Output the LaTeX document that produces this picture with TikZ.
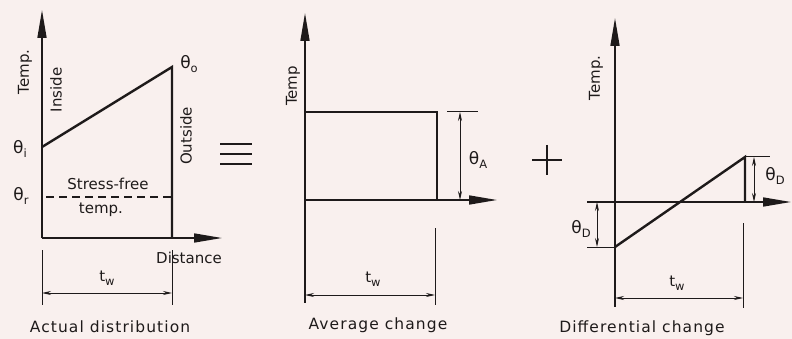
\documentclass[tikz,border=0pt]{standalone}
\usepackage{fontspec}
\setmainfont{DejaVu Sans}
\usetikzlibrary{arrows.meta}
\definecolor{bg}{RGB}{249,240,238}
\definecolor{ink}{RGB}{30,26,26}
\newcommand{\sbs}[1]{\raisebox{-0.5ex}{\fontsize{11.5}{11.5}\selectfont #1}}
\begin{document}
\begin{tikzpicture}[x=1pt,y=-1pt,
 ax/.style={line width=1.6pt, draw=ink, -{Triangle[length=28pt,width=9pt]}},
 gr/.style={line width=2.4pt, draw=ink},
 dimline/.style={line width=0.9pt, draw=ink, {Stealth[length=9pt,width=4pt]}-{Stealth[length=9pt,width=4pt]}},
 ext/.style={line width=1pt, draw=ink},
 lbl/.style={text=ink, font=\fontsize{15}{17}\selectfont, inner sep=0pt},
 thl/.style={text=ink, font=\fontsize{17}{19}\selectfont, inner sep=0pt},
 capt/.style={text=ink, font=\fontsize{15.5}{17}\selectfont\addfontfeature{LetterSpace=7}, inner sep=0pt},
 eqbar/.style={line width=2.8pt, draw=ink},
]
\useasboundingbox (0,0) rectangle (792,339);
\fill[bg] (0,0) rectangle (792,339);

% ---------- Panel 1: actual distribution ----------
\coordinate (o1) at (42,238);
\coordinate (y1) at (42,10);
\coordinate (x1) at (222,238);
\coordinate (i1) at (42,147);
\coordinate (w1) at (172,67);
\coordinate (b1) at (172,238);
\coordinate (r1a) at (46,197);
\coordinate (r1b) at (172,197);
\draw[ax] (o1) -- (y1);
\draw[ax] (o1) -- (x1);
\draw[gr] (i1) -- (w1) -- (b1);
\draw[ink, line width=1.8pt, dash pattern=on 8pt off 5pt] (r1a) -- (r1b);
\coordinate (e1a) at (42,250); \coordinate (e1b) at (42,305);
\coordinate (e1c) at (172,250); \coordinate (e1d) at (172,305);
\draw[ext] (e1a) -- (e1b);
\draw[ext] (e1c) -- (e1d);
\coordinate (d1a) at (42,293); \coordinate (d1b) at (172,293);
\draw[dimline] (d1a) -- (d1b);
\node[lbl, rotate=90] (temp1) at (25,72) {Temp.};
\node[lbl, rotate=90] (ins) at (56,90) {Inside};
\node[lbl, rotate=90] (outs) at (186,136) {Outside};
\node[thl] (thi) at (20,149) {θ\sbs{i}};
\node[thl] (thr) at (21,196) {θ\sbs{r}};
\node[thl] (tho) at (189,64) {θ\sbs{o}};
\node[lbl] (sf) at (108,184) {Stress-free};
\node[lbl] (tp) at (101,210) {temp.};
\node[lbl] (dist) at (189,258) {Distance};
\node[lbl] (tw1) at (107,278) {t\sbs{w}};
\node[capt] (c1) at (110,327) {Actual distribution};

% equivalence sign
\coordinate (q1) at (220,144); \coordinate (q2) at (252,144);
\coordinate (q3) at (220,154); \coordinate (q4) at (252,154);
\coordinate (q5) at (220,164); \coordinate (q6) at (252,164);
\draw[eqbar] (q1) -- (q2);
\draw[eqbar] (q3) -- (q4);
\draw[eqbar] (q5) -- (q6);

% ---------- Panel 2: average change ----------
\coordinate (o2) at (305,200);
\coordinate (y2) at (305,13);
\coordinate (bot2) at (305,303);
\coordinate (x2) at (497,200);
\coordinate (t2a) at (305,112);
\coordinate (t2b) at (437,112);
\coordinate (b2) at (437,200);
\draw[ext, line width=1.4pt] (o2) -- (bot2);
\draw[ax] (o2) -- (y2);
\draw[ax] (o2) -- (x2);
\draw[gr] (t2a) -- (t2b) -- (b2);
\coordinate (x2a) at (447,112); \coordinate (x2b) at (478,112);
\draw[ext] (x2a) -- (x2b);
\coordinate (a2a) at (460,112); \coordinate (a2b) at (460,200);
\draw[dimline] (a2a) -- (a2b);
\coordinate (e2a) at (435,228); \coordinate (e2b) at (435,305);
\draw[ext] (e2a) -- (e2b);
\coordinate (d2a) at (305,295); \coordinate (d2b) at (435,295);
\draw[dimline] (d2a) -- (d2b);
\node[lbl, rotate=90] (temp2) at (293,86) {Temp};
\node[thl] (tha) at (478,160) {θ\sbs{A}};
\node[lbl] (tw2) at (373,279) {t\sbs{w}};
\node[capt] (c2) at (378,325) {Average change};

% plus sign
\coordinate (p1) at (532,160); \coordinate (p2) at (562,160);
\coordinate (p3) at (547,145); \coordinate (p4) at (547,175);
\draw[eqbar, line width=2.4pt] (p1) -- (p2);
\draw[eqbar, line width=2.4pt] (p3) -- (p4);

% ---------- Panel 3: differential change ----------
\coordinate (o3) at (615,202);
\coordinate (y3) at (615,18);
\coordinate (bot3) at (615,307);
\coordinate (x3s) at (587,202);
\coordinate (x3) at (791,202);
\coordinate (s3a) at (615,247);
\coordinate (s3b) at (745,157);
\coordinate (s3c) at (745,202);
\draw[ext, line width=1.4pt] (o3) -- (bot3);
\draw[ax] (o3) -- (y3);
\draw[ax] (x3s) -- (x3);
\draw[gr] (s3a) -- (s3b) -- (s3c);
\coordinate (h3a) at (745,157); \coordinate (h3b) at (770,157);
\draw[ext] (h3a) -- (h3b);
\coordinate (r3a) at (754,157); \coordinate (r3b) at (754,202);
\draw[dimline] (r3a) -- (r3b);
\coordinate (l3a) at (587,247); \coordinate (l3b) at (615,247);
\draw[ext] (l3a) -- (l3b);
\coordinate (m3a) at (597,202); \coordinate (m3b) at (597,247);
\draw[dimline] (m3a) -- (m3b);
\coordinate (e3a) at (743,223); \coordinate (e3b) at (743,308);
\draw[ext] (e3a) -- (e3b);
\coordinate (d3a) at (615,298); \coordinate (d3b) at (743,298);
\draw[dimline] (d3a) -- (d3b);
\node[lbl, rotate=90] (temp3) at (596,78) {Temp.};
\node[thl] (thd1) at (775,176) {θ\sbs{D}};
\node[thl] (thd2) at (581,229) {θ\sbs{D}};
\node[lbl] (tw3) at (677,283) {t\sbs{w}};
\node[capt] (c3) at (642,328) {Differential change};
\end{tikzpicture}
\end{document}
